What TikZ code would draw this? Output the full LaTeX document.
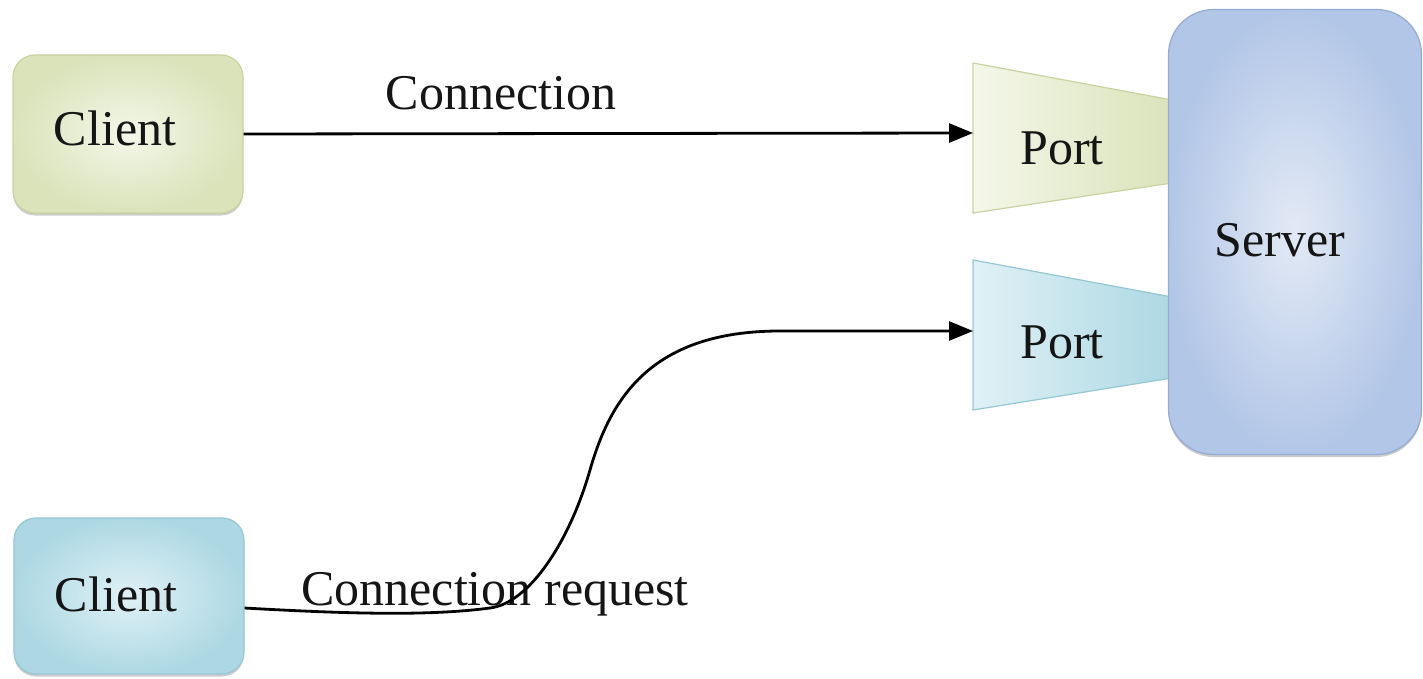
\documentclass[tikz,border=0pt]{standalone}
\usepackage{fontspec}
\setmainfont{Liberation Serif}
\usetikzlibrary{arrows.meta,shadows}
\definecolor{gEdge}{HTML}{C8D3A0}
\definecolor{gIn}{HTML}{F4F7E9}
\definecolor{gOut}{HTML}{DAE3BA}
\definecolor{bEdge}{HTML}{96C7D5}
\definecolor{bIn}{HTML}{E0F1F6}
\definecolor{bOut}{HTML}{ADD8E3}
\definecolor{sIn}{HTML}{E3EAF5}
\definecolor{sOut}{HTML}{B2C6E7}
\definecolor{sEdge}{HTML}{93ACD3}
\definecolor{ink}{HTML}{151515}
\begin{document}
\begin{tikzpicture}[x=1pt,y=-1pt,
  lbl/.style={font=\fontsize{50}{60}\selectfont, text=ink, inner sep=0pt},
  box/.style={draw, line width=1.2pt, rounded corners=22pt, minimum width=230pt, minimum height=158pt,
    drop shadow={shadow xshift=0pt, shadow yshift=-2.5pt, opacity=.4, fill=gray}},
  greenbox/.style={box, draw=gEdge, inner color=gIn, outer color=gOut},
  bluebox/.style={box, draw=bEdge, inner color=bIn, outer color=bOut},
  portshape/.style={line width=1.2pt},
  conn/.style={line width=2.8pt, -{Triangle[length=24pt,width=19pt]}},
]
\fill[white] (0,0) rectangle (1423,679);
\useasboundingbox (0,0) rectangle (1423,679);

% clients
\node[greenbox] (c1) at (128,134) {};
\node[lbl] (c1t) at (115,128) {Client};
\node[bluebox, minimum height=156pt] (c2) at (129,596) {};
\node[lbl] (c2t) at (116,594) {Client};

% ports
\shade[left color=gIn, right color=gOut, draw=gEdge, portshape]
  (973,63) -- (1172,100) -- (1172,183) -- (973,213) -- cycle;
\shade[left color=bIn, right color=bOut, draw=bEdge, portshape]
  (973,260) -- (1172,297) -- (1172,378) -- (973,410) -- cycle;
\node[lbl] (p1) at (1062,148) {Port};
\node[lbl] (p2) at (1062,342) {Port};
\coordinate (p1w) at (973,133);
\coordinate (p2w) at (973,331);

% server
\node[draw=sEdge, line width=1.2pt, rounded corners=45pt, minimum width=253pt, minimum height=445pt,
  inner color=sIn, outer color=sOut,
  drop shadow={shadow xshift=0pt, shadow yshift=-2.5pt, opacity=.4, fill=gray}] (srv) at (1295,232) {};
\node[lbl] (srvt) at (1280,240) {Server};

% labels
\node[lbl] (l1) at (501,93) {Connection};
\node[lbl] (l2) at (495,594) {Connection request};

% connectors
\draw[conn] (c1.east) -- (p1w);
\draw[conn] ([yshift=-12pt]c2.east) .. controls (350,614) and (430,616) .. (490,608)
  .. controls (530,603) and (570,540) .. (590,470)
  .. controls (610,400) and (650,331) .. (780,331) -- (p2w);
\end{tikzpicture}
\end{document}
